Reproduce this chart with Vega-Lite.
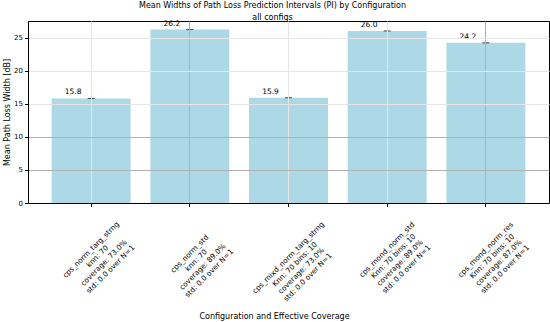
{
  "$schema": "https://vega.github.io/schema/vega-lite/v6.json",
  "width": 521,
  "height": 182,
  "autosize": "none",
  "padding": {"left": 28, "top": 21, "right": 1, "bottom": 119},
  "background": "white",
  "config": {
    "font": "DejaVu Sans",
    "view": {"stroke": "black", "strokeWidth": 1}
  },
  "title": {
    "text": ["Mean Widths of Path Loss Prediction Intervals (PI) by Configuration", "all configs"],
    "fontSize": 8,
    "fontWeight": "normal",
    "color": "black",
    "lineHeight": 11.5,
    "baseline": "alphabetic",
    "offset": -8,
    "dx": -16
  },
  "data": {
    "values": [
      {"config": "cps_norm_targ_strng\nknn: 70\ncoverage: 73.0%\nstd: 0.0 over N=1", "width": 15.8, "label": "15.8"},
      {"config": "cps_norm_std\nknn: 70\ncoverage: 89.0%\nstd: 0.0 over N=1", "width": 26.2, "label": "26.2"},
      {"config": "cps_mixd_norm_targ_strng\nKnn: 70 bins: 10\ncoverage: 73.0%\nstd: 0.0 over N=1", "width": 15.9, "label": "15.9"},
      {"config": "cps_mond_norm_std\nKnn: 70 bins: 10\ncoverage: 89.0%\nstd: 0.0 over N=1", "width": 26.0, "label": "26.0"},
      {"config": "cps_mond_norm_res\nKnn: 70 bins: 10\ncoverage: 87.0%\nstd: 0.0 over N=1", "width": 24.2, "label": "24.2"}
    ]
  },
  "encoding": {
    "x": {
      "field": "config",
      "type": "nominal",
      "sort": null,
      "scale": {"paddingInner": 0.2, "paddingOuter": 0.24},
      "axis": {
        "title": "Configuration and Effective Coverage",
        "titleFontSize": 8,
        "titleFontWeight": "normal",
        "titleColor": "black",
        "titleX": 246,
        "titleY": 113,
        "titleBaseline": "middle",
        "labelExpr": "split(datum.label, '\\n')",
        "labelAngle": -45,
        "labelAlign": "center",
        "labelBaseline": "middle",
        "labelFontSize": 7.3,
        "labelLineHeight": 9.2,
        "labelColor": "black",
        "labelOverlap": false,
        "labelBound": false,
        "labelLimit": 0,
        "labelPadding": {
          "condition": [
            {"test": "indexof(datum.value, 'cps_norm_targ') >= 0", "value": 43},
            {"test": "indexof(datum.value, 'cps_norm_std') >= 0", "value": 47},
            {"test": "indexof(datum.value, 'cps_mixd') >= 0", "value": 51}
          ],
          "value": 43
        },
        "tickSize": 3.5,
        "tickColor": "black",
        "domainColor": "black",
        "grid": true,
        "gridColor": {
          "condition": {"test": "indexof(datum.value, 'cps_norm_std') >= 0 || indexof(datum.value, 'norm_res') >= 0", "value": "#b0b0b0"},
          "value": "#e6e6e6"
        },
        "zindex": 1
      }
    },
    "y": {
      "field": "width",
      "type": "quantitative",
      "scale": {"domain": [0, 27.5], "nice": false},
      "axis": {
        "title": "Mean Path Loss Width [dB]",
        "titleFontSize": 8,
        "titleFontWeight": "normal",
        "titleColor": "black",
        "titleX": -21,
        "titleBaseline": "middle",
        "values": [0, 5, 10, 15, 20, 25],
        "labelFontSize": 7,
        "labelColor": "black",
        "labelPadding": 2,
        "tickSize": 3.5,
        "tickColor": "black",
        "domainColor": "black",
        "grid": true,
        "gridColor": {
          "condition": {"test": "datum.value <= 10", "value": "#b0b0b0"},
          "value": "#e6e6e6"
        },
        "zindex": 1
      }
    }
  },
  "layer": [
    {
      "mark": {"type": "bar", "color": "#ADD8E6"}
    },
    {
      "mark": {"type": "tick", "color": "black", "size": 7, "thickness": 1, "orient": "horizontal"}
    },
    {
      "mark": {"type": "text", "fontSize": 7.5, "color": "black", "baseline": "bottom", "align": "center", "dx": -18, "dy": -2},
      "encoding": {
        "text": {"field": "label"}
      }
    }
  ]
}
